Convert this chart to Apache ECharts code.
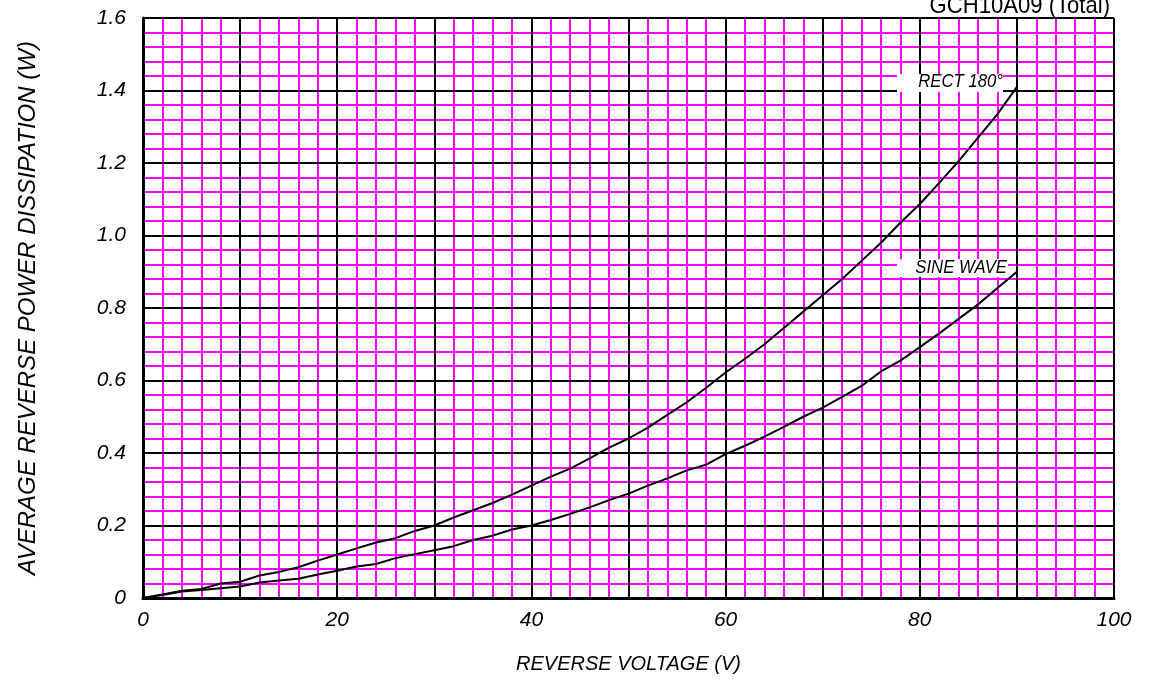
<!DOCTYPE html>
<html><head><meta charset="utf-8">
<script src="https://cdn.jsdelivr.net/npm/echarts@6/dist/echarts.min.js"></script>
<style>html,body{margin:0;padding:0;background:#fff}#c{width:1151px;height:679px}</style>
</head><body><div id="c"></div>
<script>
var voltage = [0,2,4,6,8,10,12,14,16,18,20,22,24,26,28,30,32,34,36,38,40,42,44,46,48,50,52,54,56,58,60,62,64,66,68,70,72,74,76,78,80,82,84,86,88,90];
var rect180 = [0,0.01,0.02,0.025,0.04,0.045,0.062,0.072,0.085,0.103,0.12,0.137,0.153,0.165,0.185,0.2,0.222,0.242,0.262,0.285,0.31,0.335,0.357,0.385,0.415,0.44,0.47,0.505,0.54,0.58,0.622,0.66,0.7,0.745,0.79,0.835,0.88,0.93,0.98,1.035,1.087,1.145,1.205,1.27,1.335,1.41];
var sineWave = [0,0.008,0.018,0.022,0.027,0.032,0.043,0.048,0.053,0.065,0.075,0.087,0.094,0.11,0.121,0.132,0.143,0.16,0.172,0.189,0.2,0.215,0.232,0.25,0.27,0.288,0.31,0.33,0.352,0.368,0.397,0.42,0.445,0.472,0.5,0.525,0.555,0.585,0.625,0.655,0.692,0.73,0.77,0.81,0.855,0.9];
var yTicks = ['0','0.2','0.4','0.6','0.8','1.0','1.2','1.4','1.6'];

function pairs(xs, ys){ return xs.map(function(x,i){return [x, ys[i]];}); }
var chart = echarts.init(document.getElementById('c'));
var font = 'Liberation Sans, Arial, sans-serif';
chart.setOption({
  animation:false,
  grid:{left:143,right:37,top:18,bottom:81},
  xAxis:{type:'value',min:0,max:100,interval:20,
    name:'REVERSE VOLTAGE (V)',nameLocation:'middle',nameGap:56,
    nameTextStyle:{fontFamily:font,fontStyle:'italic',fontSize:20,color:'#000'},
    axisLine:{show:true,onZero:false,lineStyle:{color:'#000',width:3}},
    axisTick:{show:false},
    axisLabel:{fontFamily:font,fontStyle:'italic',fontSize:21,color:'#000',margin:12},
    splitLine:{show:false},
    minorTick:{show:false,splitNumber:10},
    minorSplitLine:{show:true,lineStyle:{color:'#ff00ff',width:2}}
  },
  yAxis:{type:'value',min:0,max:1.6,interval:0.2,
    name:'AVERAGE REVERSE POWER DISSIPATION (W)',nameLocation:'middle',nameGap:103,
    nameTextStyle:{fontFamily:font,fontStyle:'italic',fontSize:24,color:'#000'},
    axisLine:{show:true,onZero:false,lineStyle:{color:'#000',width:3}},
    axisTick:{show:false},
    axisLabel:{fontFamily:font,fontStyle:'italic',fontSize:21,color:'#000',margin:17,
      formatter:function(v){var i=Math.round(v/0.2);return yTicks[i];}},
    splitLine:{show:false},
    minorTick:{show:false,splitNumber:5},
    minorSplitLine:{show:true,lineStyle:{color:'#ff00ff',width:2}}
  },
  series:[
    {type:'line',data:[],z:1,silent:true,
     markLine:{silent:true,symbol:'none',label:{show:false},lineStyle:{color:'#000',width:2,type:'solid'},
       data:[{xAxis:20},{xAxis:40},{xAxis:60},{xAxis:80},{xAxis:100},
             {yAxis:0.2},{yAxis:0.4},{yAxis:0.6},{yAxis:0.8},{yAxis:1.0},{yAxis:1.2},{yAxis:1.4},{yAxis:1.6},
             {xAxis:10},{xAxis:30},{xAxis:50},{xAxis:70},{xAxis:90}]}},
    {name:'RECT 180°',type:'line',data:pairs(voltage,rect180),showSymbol:false,z:5,
     lineStyle:{color:'#000',width:2}},
    {name:'SINE WAVE',type:'line',data:pairs(voltage,sineWave),showSymbol:false,z:5,
     lineStyle:{color:'#000',width:2}}
  ],
  graphic:[
    {type:'text',x:1110,y:6,style:{text:'GCH10A09 (Total)',font:'24px '+font,fill:'#000',align:'right',verticalAlign:'middle'},scaleX:0.92,z:11},
    {type:'rect',shape:{x:897,y:74,width:106,height:18},style:{fill:'#fff'},z:10},
    {type:'text',x:1003,y:82,style:{text:'RECT 180°',font:'italic 19px '+font,fill:'#000',align:'right',verticalAlign:'middle'},scaleX:0.88,z:11},
    {type:'rect',shape:{x:897,y:259,width:111,height:18},style:{fill:'#fff'},z:10},
    {type:'text',x:1007,y:268,style:{text:'SINE WAVE',font:'italic 19px '+font,fill:'#000',align:'right',verticalAlign:'middle'},scaleX:0.88,z:11}
  ]
});
</script></body></html>
